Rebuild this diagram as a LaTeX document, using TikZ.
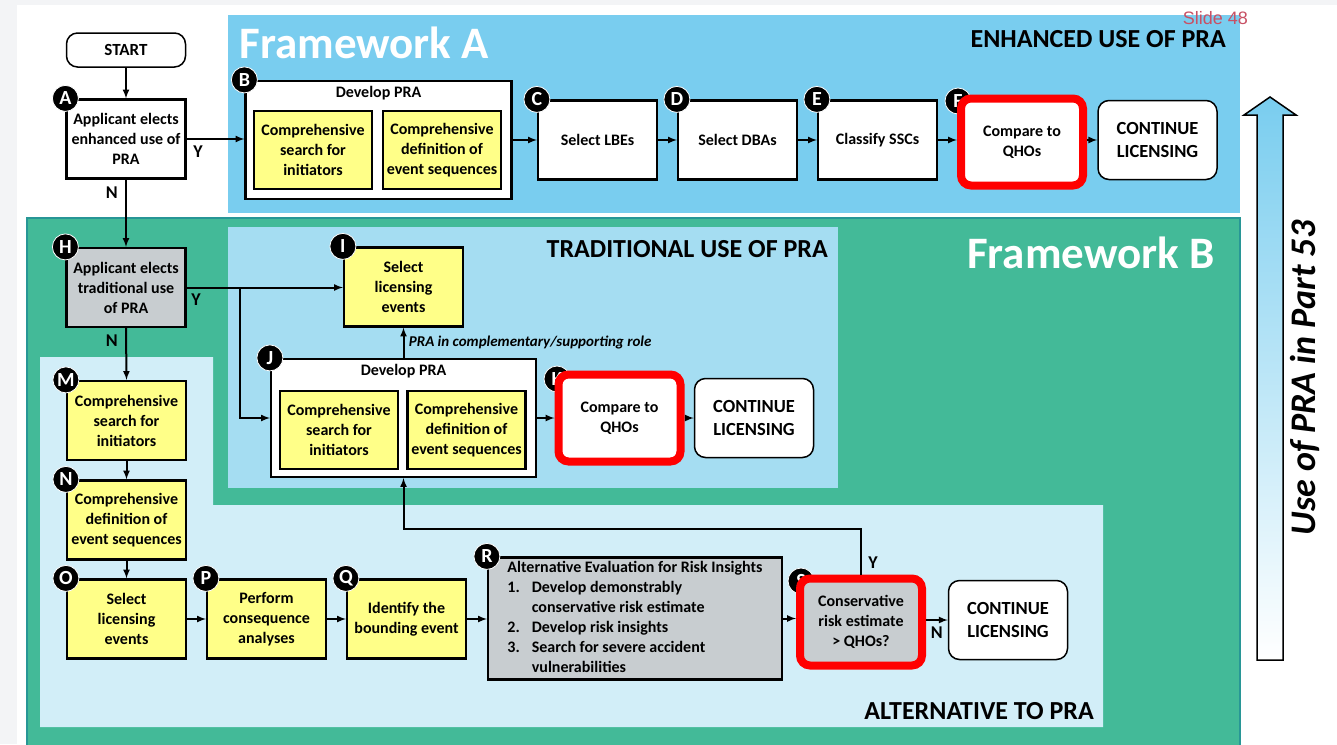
\documentclass[tikz,border=0pt]{standalone}
\usepackage{fontspec}
\setmainfont{Carlito}
\newfontfamily\slidefont{Liberation Sans}
\usetikzlibrary{arrows,shapes}
\usetikzlibrary{positioning}
\definecolor{fwablue}{RGB}{121,205,239}
\definecolor{fwbgreen}{RGB}{67,186,152}
\definecolor{fwbedge}{RGB}{40,150,150}
\definecolor{tradblue}{RGB}{165,221,242}
\definecolor{altblue}{RGB}{210,238,248}
\definecolor{boxyellow}{RGB}{255,255,136}
\definecolor{boxgray}{RGB}{200,205,208}
\definecolor{slidered}{RGB}{200,80,100}
\definecolor{pagegray}{RGB}{243,244,246}
\tikzstyle{stepbox} = [draw, rectangle, line width=2.2pt, fill=white,
    minimum width=119pt, minimum height=79pt, align=center, inner sep=1pt,
    font=\fontsize{16}{20}\selectfont\bfseries]
\tikzstyle{yellowbox} = [stepbox, fill=boxyellow]
\tikzstyle{graybox} = [stepbox, fill=boxgray]
\tikzstyle{endbox} = [stepbox, rounded corners=11pt, line width=1.5pt,
    font=\fontsize{18.5}{23}\selectfont\bfseries]
\tikzstyle{qhobox} = [draw=red, line width=8pt, rounded corners=10pt, fill=white,
    minimum width=122pt, minimum height=87pt, align=center,
    font=\fontsize{16}{20}\selectfont\bfseries]
\tikzstyle{badge} = [circle, fill=black, draw=white, line width=0.8pt, text=white,
    inner sep=0pt, minimum size=26pt, font=\fontsize{20}{20}\selectfont\bfseries]
\tikzstyle{yn} = [font=\fontsize{18}{18}\selectfont\bfseries]
\tikzstyle{flow} = [-latex, line width=2pt]
\tikzstyle{zonetitle} = [anchor=east, inner sep=0pt, font=\fontsize{26}{26}\selectfont\bfseries]
\tikzstyle{frametitle} = [anchor=west, text=white, font=\fontsize{45}{45}\selectfont\bfseries]

\begin{document}
\begin{tikzpicture}[x=1pt, y=-1pt]
  \useasboundingbox (0,0) rectangle (1337,744);
  % Page and zones
  \fill[white] (0,0) rectangle (1337,744);
  \fill[pagegray] (0,0) rectangle (1337,5);
  \fill[pagegray] (0,0) rectangle (17,744);
  \fill[fwablue] (228,15) rectangle (1240,213);
  \draw[fill=fwbgreen, draw=fwbedge, line width=1.5pt] (27,218) rectangle (1240,760);
  \fill[tradblue] (228,227) rectangle (838,488);
  \fill[altblue] (40,357) -- (213,357) -- (213,505) -- (1103,505) -- (1103,727)
    -- (40,727) -- cycle;
  \node[frametitle] (fwa) at (236,43) {Framework A};
  \node[frametitle, anchor=east] (fwb) at (1218,253) {Framework B};
  \node[zonetitle] (enh) at (1226,39) {ENHANCED USE OF PRA};
  \node[zonetitle] (trad) at (828,249) {TRADITIONAL USE OF PRA};
  \node[zonetitle] (alt) at (1094,711) {ALTERNATIVE TO PRA};
  \node[anchor=east, inner sep=0pt, text=slidered, font=\fontsize{18}{18}\slidefont] (slide) at (1248,18) {Slide 48};

  % Framework A
  \node [endbox, minimum height=34pt, font=\fontsize{17}{17}\selectfont\bfseries] (start) at (126,50) {START};
  \node [stepbox] (a) at (126,139) {Applicant elects\\enhanced use of\\PRA};
  \node [stepbox, minimum width=266pt, minimum height=118pt] (b) at (378.5,140) {};
  \node [below=3pt of b.north, font=\fontsize{16}{16}\selectfont\bfseries] (btitle) {Develop PRA};
  \node [yellowbox, minimum width=118pt, minimum height=78pt] (b1) at (313,150) {Comprehensive\\search for\\initiators};
  \node [yellowbox, minimum width=118pt, minimum height=78pt] (b2) at (442,150) {Comprehensive\\definition of\\event sequences};
  \node [stepbox, right of=b, node distance=219pt] (c) {Select LBEs};
  \node [stepbox, right of=c, node distance=140pt] (d) {Select DBAs};
  \node [stepbox, right of=d, node distance=140pt] (e) {Classify SSCs};
  \node [badge] (fb) at (958,101) {F};
  \node [qhobox] (f) at (1022,142) {Compare to\\QHOs};
  \node [endbox, right of=e, node distance=280pt] (acont) {CONTINUE\\LICENSING};
  \node [badge] (ab) at (a.north west) {A};
  \node [badge] (bb) at (b.north west) {B};
  \node [badge] (cb) at (c.north west) {C};
  \node [badge] (db) at (d.north west) {D};
  \node [badge] (eb) at (e.north west) {E};
  \draw [flow] (start) -- (a);
  \draw [flow] (a.east) -- (b.west |- a.east) node[yn, pos=0.2, below=2pt] {Y};
  \draw [flow] (b.east |- c.west) -- (c.west);
  \draw [flow] (c) -- (d);
  \draw [flow] (d) -- (e);
  \draw [flow] (e.east) -- (f.west |- e.east);
  \draw [flow] (f.east |- acont.west) -- (acont.west);

  % Framework B
  \node [graybox] (h) at (126,287.5) {Applicant elects\\traditional use\\of PRA};
  \node [yellowbox] (i) at (403.5,287) {Select\\licensing\\events};
  \node [stepbox, minimum width=265pt, minimum height=118pt] (j) at (403.5,418) {};
  \node [below=3pt of j.north, font=\fontsize{16}{16}\selectfont\bfseries] (jtitle) {Develop PRA};
  \node [yellowbox, minimum width=118pt, minimum height=78pt] (j1) at (339,430) {Comprehensive\\search for\\initiators};
  \node [yellowbox, minimum width=118pt, minimum height=78pt] (j2) at (466.5,430) {Comprehensive\\definition of\\event sequences};
  \node [badge] (kb) at (557,379) {K};
  \node [qhobox, right of=j, node distance=216pt] (k) {Compare to\\QHOs};
  \node [endbox, right of=k, node distance=134.5pt] (kcont) {CONTINUE\\LICENSING};
  \node [yellowbox] (m) at (126.5,420.5) {Comprehensive\\search for\\initiators};
  \node [yellowbox, below of=m, node distance=99.5pt] (n) {Comprehensive\\definition of\\event sequences};
  \node [yellowbox, below of=n, node distance=99pt] (o) {Select\\licensing\\events};
  \node [yellowbox, right of=o, node distance=140pt] (p) {Perform\\consequence\\analyses};
  \node [yellowbox, right of=p, node distance=140pt] (q) {Identify the\\bounding event};
  \node [graybox, minimum width=294pt, minimum height=119pt] (r) at (635,618.5) {%
    \begin{tabular}{@{}l@{\hspace{12pt}}l@{}}
      \multicolumn{2}{@{}l@{}}{Alternative Evaluation for Risk Insights}\\
      1. & Develop demonstrably\\
         & conservative risk estimate\\
      2. & Develop risk insights\\
      3. & Search for severe accident\\
         & vulnerabilities
    \end{tabular}};
  \node [badge] (sb) at (801,581) {S};
  \node [qhobox, fill=boxgray] (s) at (861,622) {Conservative\\risk estimate\\> QHOs?};
  \node [endbox] (scont) at (1008,620) {CONTINUE\\LICENSING};
  \node [badge] (hb) at (h.north west) {H};
  \node [badge] (ib) at (i.north west) {I};
  \node [badge] (jb) at (j.north west) {J};
  \node [badge] (mb) at (m.north west) {M};
  \node [badge] (nb) at (n.north west) {N};
  \node [badge] (ob) at (o.north west) {O};
  \node [badge] (pb) at (p.north west) {P};
  \node [badge] (qb) at (q.north west) {Q};
  \node [badge] (rb) at (r.north west) {R};
  \coordinate (hsplit) at (240,287.5);
  \coordinate (sloop) at (861,529);
  \draw [flow] (a.south) -- (h.north) node[yn, pos=0.2, left=4pt] {N};
  \draw [flow] (h.east) -- (i.west |- h.east) node[yn, pos=0.06, below=2pt] {Y};
  \draw [flow] (hsplit) |- (j.west);
  \draw [flow] (j.north) -- (i.south)
    node[midway, right=1pt, font=\fontsize{15}{15}\selectfont\bfseries\itshape] {PRA in complementary/supporting role};
  \draw [flow] (j.east) -- (k.west |- j.east);
  \draw [flow] (k.east |- kcont.west) -- (kcont.west);
  \draw [flow] (h.south) -- (m.north) node[yn, pos=0.25, left=4pt] {N};
  \draw [flow] (m) -- (n);
  \draw [flow] (n) -- (o);
  \draw [flow] (o) -- (p);
  \draw [flow] (p) -- (q);
  \draw [flow] (q.east) -- (r.west |- q.east);
  \draw [flow] (r.east) -- (s.west |- r.east);
  \draw [flow] (s.east |- scont.west) -- (scont.west) node[yn, midway, below=2pt] {N};
  \draw [flow] (s.north) -- (sloop) -| (j.south);
  \node [yn] (sy) at (873,563) {Y};

  % Use of PRA arrow
  \draw [line width=1.5pt, top color=fwablue, bottom color=white]
    (1257,660) -- (1257,115) -- (1244,115) -- (1270,97) -- (1296,115)
    -- (1283,115) -- (1283,660) -- cycle;
  \node [rotate=90, font=\fontsize{36}{36}\selectfont\bfseries\itshape] (use) at (1305,378) {Use of PRA in Part 53};
\end{tikzpicture}
\end{document}
